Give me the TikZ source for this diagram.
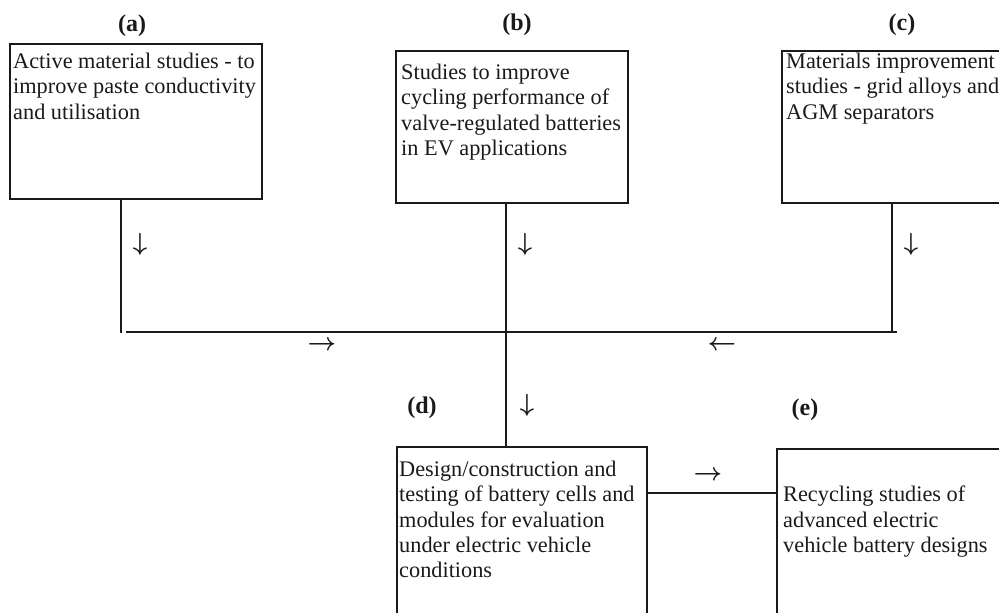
\documentclass[tikz,border=0pt]{standalone}
\usepackage{fontspec}
\setmainfont{Liberation Serif}
\usepackage{tikz}
\definecolor{ink}{HTML}{1A1A1A}
\tikzset{box/.style={draw=ink,line width=1.6pt,anchor=north west,inner sep=0pt},
  txt/.style={anchor=north west,inner sep=0pt,align=left,text=ink,font=\fontsize{22.3}{25.3}\selectfont},
  tag/.style={inner sep=0pt,text=ink,font=\fontsize{24}{24}\selectfont\bfseries},
  dir/.style={inner sep=0pt,text=ink,font=\fontsize{25}{25}\selectfont\boldmath},
  wire/.style={draw=ink,line width=1.6pt}}

\begin{document}
\begin{tikzpicture}[x=1pt,y=-1pt]
\useasboundingbox (0,0) rectangle (999,613);
\clip (0,0) rectangle (999,613);
% boxes
\node[box,minimum width=252pt,minimum height=155pt] (a) at (9,43) {};
\node[box,minimum width=232pt,minimum height=152pt] (b) at (395,50) {};
\node[box,minimum width=240pt,minimum height=152pt] (c) at (781,50) {};
\node[box,minimum width=250pt,minimum height=200pt] (d) at (396,446) {};
\node[box,minimum width=240pt,minimum height=200pt] (e) at (776,448) {};
% texts
\node[txt] (ta) at (13,53) {Active material studies - to\\improve paste conductivity\\and utilisation};
\node[txt] (tb) at (401,64) {Studies to improve\\cycling performance of\\valve-regulated batteries\\in EV applications};
\node[txt] (tc) at (786,53) {Materials improvement\\studies - grid alloys and\\AGM separators};
\node[txt] (td) at (399,461) {Design/construction and\\testing of battery cells and\\modules for evaluation\\under electric vehicle\\conditions};
\node[txt] (te) at (783,486) {Recycling studies of\\advanced electric\\vehicle battery designs};
\foreach \n/\x/\y in {a/132/26,b/517/25,c/902/25,d/422/408,e/805/410}
  \node[tag] (lab\n) at (\x,\y) {(\n)};
% direction marks
\node[dir] (da) at (140,244) {$\downarrow$};
\node[dir] (db) at (525,244) {$\downarrow$};
\node[dir] (dc) at (911,244) {$\downarrow$};
\node[dir] (dd) at (527,405) {$\downarrow$};
\node[dir] (rl) at (322,346) {$\rightarrow$};
\node[dir] (rr) at (722,346) {$\leftarrow$};
\node[dir] (re) at (708,476) {$\rightarrow$};
% connectors
\coordinate (ja) at (121,333);
\coordinate (jl) at (126,332);
\coordinate (jr) at (897,332);
\coordinate (jb) at (506,332);
\coordinate (jc) at (892,332);
\coordinate (je) at (700,493);
\draw[wire] (a.south -| ja) -- (ja);
\draw[wire] (jl) -- (jr);
\draw[wire] (c.south -| jc) -- (jc);
\draw[wire] (b.south -| jb) -- (d.north -| jb);
\draw[wire] (d.east |- je) -- (e.west |- je);
\end{tikzpicture}
\end{document}
